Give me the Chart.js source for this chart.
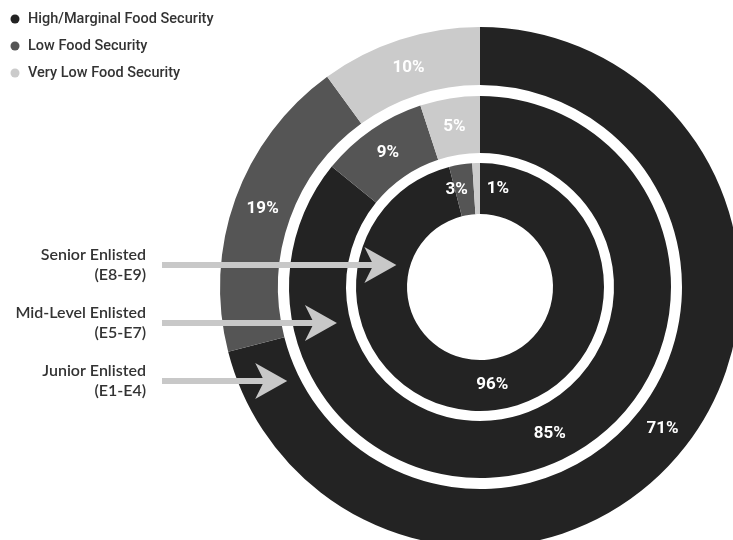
<!DOCTYPE html>
<html>
<head>
<meta charset="utf-8">
<script src="https://cdn.jsdelivr.net/npm/chart.js@4.4.1/dist/chart.umd.min.js"></script>
<style>
  html, body { margin: 0; padding: 0; width: 733px; height: 540px; overflow: hidden; background: #fff; }
  #wrap { position: absolute; left: 0; top: 0; width: 745px; height: 550px; }
</style>
</head>
<body>
<div id="wrap"><canvas id="c" width="745" height="550"></canvas></div>
<script>
// ---- data ----
const categories = ['High/Marginal Food Security', 'Low Food Security', 'Very Low Food Security'];
const groups = ['Junior Enlisted', 'Mid-Level Enlisted', 'Senior Enlisted'];
const groupCodes = ['(E1-E4)', '(E5-E7)', '(E8-E9)'];
const juniorValues = [71, 19, 10];
const midLevelValues = [85, 9, 5];
const seniorValues = [96, 3, 1];

// ---- style ----
const colors = ['#232323', '#555555', '#cbcbcb'];
const arrowColor = '#c8c8c8';
const textColor = '#333333';

const spacer = (w) => ({ data: [1], backgroundColor: ['rgba(0,0,0,0)'], borderWidth: 0, weight: w, isSpacer: true });

const ringWeights = [58, 57, 51];

const datasets = [
  { label: groups[0], data: juniorValues, backgroundColor: colors, borderWidth: 0, weight: ringWeights[0] },
  spacer(11),
  { label: groups[1], data: midLevelValues, backgroundColor: colors, borderWidth: 0, weight: ringWeights[1] },
  spacer(10),
  { label: groups[2], data: seniorValues, backgroundColor: colors, borderWidth: 0, weight: ringWeights[2] }
];

// label nudges for tiny inner slices (style only)
const labelNudge = { '4-1': [-8, 0], '4-2': [21, 0] };

const overlayPlugin = {
  id: 'overlay',
  afterDatasetsDraw(chart) {
    const ctx = chart.ctx;
    ctx.save();
    // value labels
    ctx.font = 'bold 17px Roboto, "Open Sans", sans-serif';
    ctx.fillStyle = '#ffffff';
    ctx.textAlign = 'center';
    ctx.textBaseline = 'middle';
    chart.data.datasets.forEach((ds, di) => {
      if (ds.isSpacer) return;
      const meta = chart.getDatasetMeta(di);
      meta.data.forEach((arc, i) => {
        const p = arc.getCenterPoint();
        const n = labelNudge[di + '-' + i] || [0, 0];
        ctx.fillText(ds.data[i] + '%', p.x + n[0], p.y + n[1]);
      });
    });

    // legend
    ctx.textAlign = 'left';
    ctx.font = '500 14.5px Roboto, sans-serif';
    categories.forEach((c, i) => {
      const y = 19 + i * 27;
      ctx.beginPath();
      ctx.fillStyle = colors[i];
      ctx.arc(15, y, 4.5, 0, Math.PI * 2);
      ctx.fill();
      ctx.fillStyle = textColor;
      ctx.fillText(c, 28, y + 0.5);
    });

    // group labels + arrows
    const meta0 = chart.getDatasetMeta(0).data[0];
    const cx = meta0.x, cy = meta0.y;
    const rows = [
      { gi: 2, y: 265, ring: 4 },
      { gi: 1, y: 323, ring: 2 },
      { gi: 0, y: 381, ring: 0 }
    ];
    ctx.textAlign = 'right';
    ctx.font = '600 16px Lato, sans-serif';
    rows.forEach(r => {
      ctx.fillStyle = textColor;
      ctx.fillText(groups[r.gi], 146, r.y - 10);
      ctx.fillText(groupCodes[r.gi], 146, r.y + 10);
      // tip just inside the inner edge of the ring
      const arc = chart.getDatasetMeta(r.ring).data[0];
      const dy = r.y - cy;
      const rin = arc.innerRadius;
      const tipX = cx - Math.sqrt(Math.max(rin * rin - dy * dy, 0)) - 14;
      ctx.strokeStyle = arrowColor;
      ctx.lineWidth = 6;
      ctx.beginPath();
      ctx.moveTo(162, r.y);
      ctx.lineTo(tipX - 20, r.y);
      ctx.stroke();
      ctx.fillStyle = arrowColor;
      ctx.beginPath();
      ctx.moveTo(tipX, r.y);
      ctx.lineTo(tipX - 32, r.y - 18);
      ctx.lineTo(tipX - 23, r.y);
      ctx.lineTo(tipX - 32, r.y + 18);
      ctx.closePath();
      ctx.fill();
    });
    ctx.restore();
  }
};

new Chart(document.getElementById('c'), {
  type: 'doughnut',
  data: { labels: categories, datasets },
  options: {
    responsive: false,
    animation: false,
    events: [],
    cutout: 73,
    rotation: 0,
    layout: { padding: { left: 220, top: 27, right: 5, bottom: 3 } },
    plugins: { legend: { display: false }, tooltip: { enabled: false } }
  },
  plugins: [overlayPlugin]
});
</script>
</body>
</html>
